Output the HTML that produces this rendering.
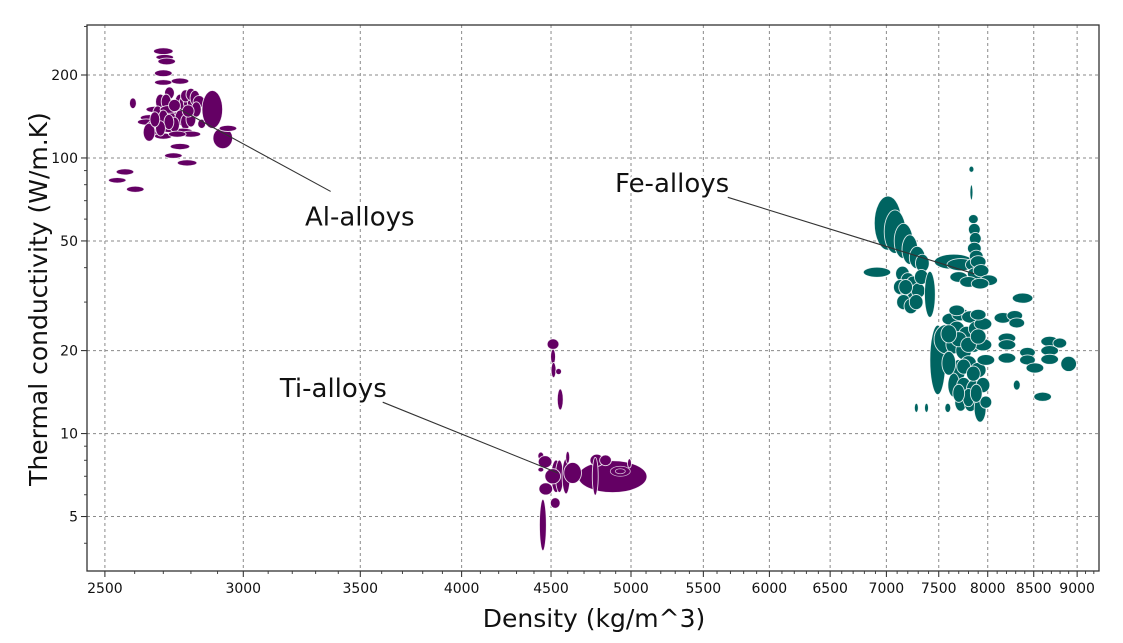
<!DOCTYPE html>
<html><head><meta charset="utf-8"><style>
html,body{margin:0;padding:0;background:#fff;}
svg{display:block;font-family:"DejaVu Sans","Liberation Sans",sans-serif;}
</style></head><body>
<svg id="chart" width="1123" height="643" viewBox="0 0 1123 643" xmlns="http://www.w3.org/2000/svg">
<g id="grid"></g>
<g id="marks"></g>
<g id="annot"></g>
<g id="axes"></g>
<text x="594" y="627" font-size="25" text-anchor="middle" fill="#111">Density (kg/m^3)</text>
<text transform="translate(47,299) rotate(-90)" font-size="25" text-anchor="middle" fill="#111">Thermal conductivity (W/m.K)</text>
</svg>
<script>
const xTicks = [2500,3000,3500,4000,4500,5000,5500,6000,6500,7000,7500,8000,8500,9000];
const yTicks = [5,10,20,50,100,200];
const yMinor = [4,6,7,8,9,30,40,60,70,80,90,300];
// each entry: [density, conductivity, density half-range %, conductivity half-range %]
const alAlloys = [
[2700,244,1.0,2.2],[2705,232,0.9,1.8],[2712,224,0.9,2.2],[2700,203,0.9,2.2],[2700,188,0.9,1.8],[2760,190,0.9,2],[2722,172,0.5,4],
[2594,158,0.35,3.5],
[2690,160,0.5,5],[2710,160,0.5,5],[2670,150,0.9,2],[2680,145,0.5,5],[2650,140,0.9,2],[2640,135,0.9,2],[2660,128,0.6,5],[2690,132,0.6,5],[2670,122,0.9,2],[2720,127,0.9,2],[2730,142,0.9,2.5],[2755,150,0.55,5],[2760,160,0.5,5],[2775,158,0.5,5],[2790,160,0.5,5],[2805,160,0.5,5],[2780,168,0.5,4],[2800,170,0.5,4],[2815,165,0.5,5],[2830,160,0.6,4],[2760,140,0.5,5],[2780,135,0.5,5],[2800,138,0.5,5],[2770,125,1.0,2],[2800,122,1.0,2],[2740,132,0.5,5],[2700,120,0.9,2],[2650,124,0.6,6],[2720,150,0.9,2.5],[2840,133,0.4,3],
[2700,140,0.5,5],[2720,135,0.5,5],[2690,128,0.5,5],[2740,155,0.6,4],[2820,150,0.5,5],[2790,148,0.6,4],[2670,138,0.5,5],[2750,122,0.9,2],
[2880,150,1.05,13],[2920,118,1.0,7],[2940,128,0.9,2],
[2760,110,1.0,2],[2736,102,0.9,1.8],[2786,96,1.0,2],[2567,89,0.9,2],[2541,83,0.9,1.8],[2602,77,0.9,2]
];
const tiAlloys = [
[4512,21.1,0.6,3.5],[4512,19.0,0.25,5],[4515,17.0,0.25,5],[4545,16.8,0.3,2],[4555,13.3,0.3,7],[4440,8.3,0.3,2.5],[4465,7.9,0.7,4],[4469,6.3,0.7,4],
[4880,6.98,3.55,10.8],[4780,8.0,0.7,4],[4835,8.0,0.6,3.5],[4990,7.8,0.2,3],
[4530,7.0,0.5,11],[4550,7.0,0.4,11],[4590,7.0,0.4,12],[4630,7.2,0.9,7],[4510,7.0,0.8,5],[4525,5.6,0.5,3.5],[4452,4.66,0.35,18],[4770,7.0,0.3,13],[4440,7.4,0.3,1.5],[4600,8.2,0.2,4]
];
const feAlloys = [
[7015,58,1.4,19],[7080,54,1.1,15],[7160,50,0.95,12],[7220,46.5,0.8,10],[7290,43.5,0.8,7.5],[7340,41.5,0.7,6],
[6914,38.5,1.4,3.3],
[7150,38,0.7,5],[7200,36,0.7,5],[7250,35,0.7,5],[7130,34,0.7,5],[7200,32,0.7,5],[7260,31,0.7,5],[7160,30,0.7,5],[7230,29,0.7,5],[7300,33,0.7,5],[7330,37,0.7,5],[7180,34,0.7,5],[7280,30,0.7,5],
[7413,32,0.55,16],[7650,42,2.0,5],[7720,41,1.4,4],
[7850,60,0.5,3],[7860,55,0.6,4],[7870,51,0.6,4],[7860,47,0.7,4],[7880,44,0.7,4],[7850,41,0.8,4],[7900,42,0.8,4],[7870,38,0.8,4],[7930,39,0.8,4],
[7700,37,0.9,3.5],[7800,35.5,0.9,3.5],[8010,36,0.9,3.5],[7920,35,0.9,3.5],
[7490,18.5,0.8,25],[7580,22,1.3,10],[7620,26,0.9,4],[7720,27,0.9,4],[7820,26.5,0.9,4],[7680,24,0.8,5],[7780,23,0.8,5],[7880,24,0.8,5],[7950,25,0.9,4],[7650,21,0.8,6],[7750,20,0.8,6],[7850,21,0.8,5],[7950,21,0.9,4],[7700,17,0.7,7],[7800,18,0.8,5],[7900,17,0.8,5],[7980,18.5,0.9,3.5],[7650,15,0.6,8],[7750,15,0.7,5],[7850,14.5,0.7,6],[7950,15,0.7,5],[7720,13,0.6,6],[7820,12.8,0.6,5],[7920,12.3,0.6,9],[7980,13,0.6,4],
[7600,18,0.7,8],[7700,22,0.8,5],[7800,21,0.8,5],[7900,22.5,0.8,5],[7750,17.5,0.7,5],[7850,16.5,0.7,5],[7680,28,0.8,3.5],[7900,27,0.8,3.5],[7800,13.5,0.6,6],[7880,14,0.6,6],[7700,14,0.6,6],[7600,23,0.8,6],
[8376,31,1.05,3.3],[8162,26.3,0.9,3.5],[8290,26.8,0.8,3.3],[8312,25.2,0.8,3.3],[8205,22.2,0.9,3.3],[8205,21,0.9,3.3],[8205,18.8,0.9,3.3],[8430,19.7,0.8,3.3],[8430,18.5,0.8,3.3],[8513,17.3,0.9,3.3],[8680,21.6,0.9,3.3],[8680,20,0.9,3.3],[8680,18.6,0.9,3.3],[8797,21.3,0.7,3.3],[8900,17.9,0.8,5],[8312,15,0.35,3.3],[8600,13.6,0.9,3],[7282,12.4,0.2,3],[7380,12.4,0.2,3],[7590,12.4,0.3,3],
[7830,91,0.25,2],[7830,75,0.15,5]
];
const labels = ["Al-alloys","Ti-alloys","Fe-alloys"];

const NS="http://www.w3.org/2000/svg";
const L=87,R=1099,T=25,B=571;
const SIZE=1.3;
function X(r){return 631+759*Math.log(r/5000);}
function Y(k){return 75-119.7*Math.log(k/200);}
function mk(tag,parent,attrs){const e=document.createElementNS(NS,tag);for(const a in attrs)e.setAttribute(a,attrs[a]);parent.appendChild(e);return e;}
const grid=document.getElementById('grid'),marks=document.getElementById('marks'),axes=document.getElementById('axes'),annot=document.getElementById('annot');

xTicks.forEach(t=>{
  const x=X(t);
  const g=mk('line',grid,{x1:x,x2:x,y1:T,y2:B,stroke:'#8a8a8a','stroke-width':1,'stroke-dasharray':'3,3'});
  
  
  const tk=mk('line',axes,{x1:x,x2:x,y1:B,y2:B+6,stroke:'#222','stroke-width':1});
  
  
  const tx=mk('text',axes,{x:x,y:B+22,'font-size':14,'text-anchor':'middle',fill:'#111'});
  tx.textContent=t;
  
  
});
for(let v=2600;v<=9200;v+=100){
  if(v%500===0)continue;
  const x=X(v); if(x>R)break;
  const m=mk('line',axes,{x1:x,x2:x,y1:B,y2:B+3,stroke:'#444','stroke-width':1});
  
  
}
yTicks.forEach(t=>{
  const y=Y(t);
  const g=mk('line',grid,{x1:L,x2:R,y1:y,y2:y,stroke:'#8a8a8a','stroke-width':1,'stroke-dasharray':'3,3'});
  
  
  const tk=mk('line',axes,{x1:L-6,x2:L,y1:y,y2:y,stroke:'#222','stroke-width':1});
  
  
  const tx=mk('text',axes,{x:L-9,y:y+5,'font-size':14,'text-anchor':'end',fill:'#111'});
  tx.textContent=t;
  
  
});
yMinor.forEach(t=>{
  const y=Y(t); if(y<T||y>B)return;
  const m=mk('line',axes,{x1:L-3,x2:L,y1:y,y2:y,stroke:'#444','stroke-width':1});
  
  
});
const frame=mk('rect',axes,{x:L,y:T,width:R-L,height:B-T,fill:'none',stroke:'#333','stroke-width':1.3});



function drawSet(arr,color,name){
  arr.forEach(d=>{
    const cx=X(d[0]),cy=Y(d[1]);
    const rx=Math.max(1.2,(X(d[0]*(1+d[2]/100))-cx)*SIZE);
    const ry=Math.max(1.2,(cy-Y(d[1]*(1+d[3]/100)))*SIZE);
    const e=mk('ellipse',marks,{cx:cx,cy:cy,rx:rx,ry:ry,fill:color,stroke:'#fff','stroke-width':0.9,'stroke-opacity':0.85});
    
    
  });
}
drawSet(alAlloys,'#640064','al-alloy-bubble');
drawSet(tiAlloys,'#640064','ti-alloy-bubble');
drawSet(feAlloys,'#006461','fe-alloy-bubble');
mk('ellipse',marks,{cx:X(4930),cy:Y(7.3),rx:10,ry:5,fill:'none',stroke:'#fff','stroke-width':0.8,'stroke-opacity':0.7});
mk('ellipse',marks,{cx:X(4930),cy:Y(7.3),rx:5,ry:2.5,fill:'none',stroke:'#fff','stroke-width':0.8,'stroke-opacity':0.7});

// annotations: label anchor and leader line ends in data units
const labelPos=[[3254,57],[3148,13.6],[4896,75.3]];
const leaderStart=[[3366,75.6],[3605,13.0],[5680,72]];
const leaderEnd=[[2760,150],[4540,7.2],[7860,38]];
labels.forEach((s,i)=>{
  const ln=mk('line',annot,{x1:X(leaderStart[i][0]),y1:Y(leaderStart[i][1]),x2:X(leaderEnd[i][0]),y2:Y(leaderEnd[i][1]),stroke:'#333','stroke-width':1.1});
  
  
  const t=mk('text',annot,{x:X(labelPos[i][0]),y:Y(labelPos[i][1]),'font-size':26,fill:'#111',stroke:'#fff','stroke-width':5,'paint-order':'stroke','stroke-linejoin':'round'});
  t.textContent=s;
  
  
});
</script>
</body></html>
